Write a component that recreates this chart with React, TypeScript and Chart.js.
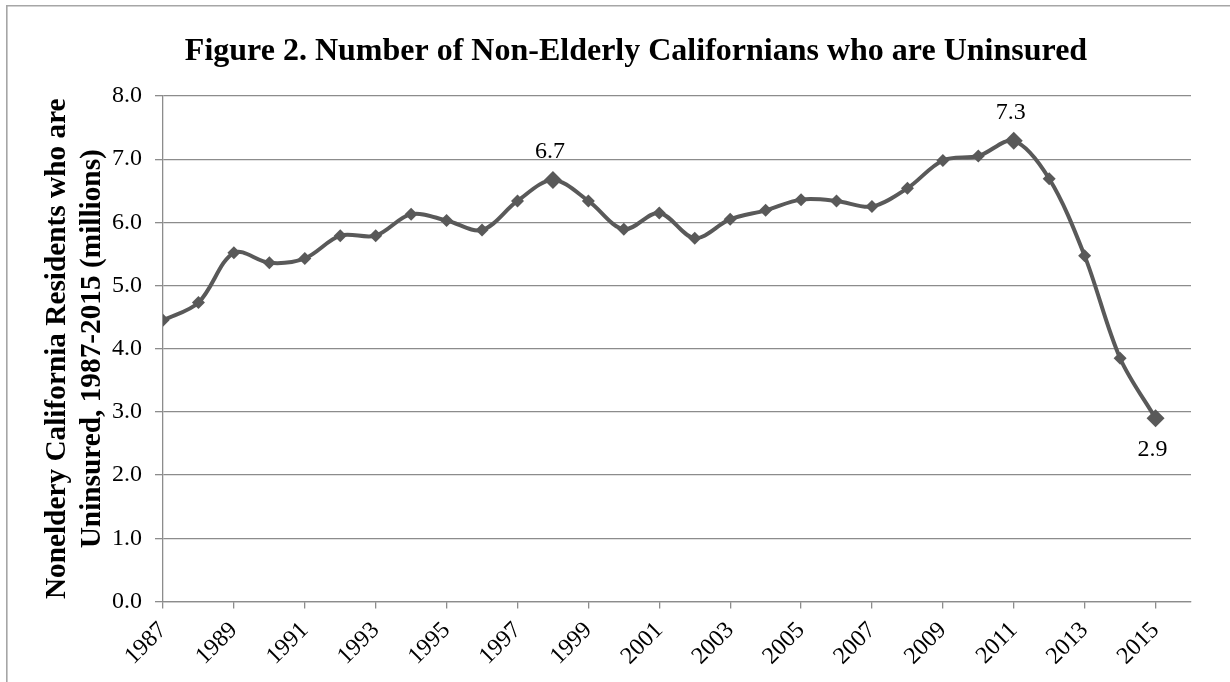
import { useEffect, useRef } from "react";
import { Chart, registerables } from "chart.js";

Chart.register(...registerables);

// Uninsured non-elderly Californians, in millions, by year
const years = [
  1987, 1988, 1989, 1990, 1991, 1992, 1993, 1994, 1995, 1996,
  1997, 1998, 1999, 2000, 2001, 2002, 2003, 2004, 2005, 2006,
  2007, 2008, 2009, 2010, 2011, 2012, 2013, 2014, 2015,
];
const uninsuredMillions = [
  4.45, 4.73, 5.52, 5.36, 5.43, 5.79, 5.79, 6.13, 6.03, 5.88,
  6.34, 6.67, 6.34, 5.89, 6.15, 5.75, 6.05, 6.19, 6.36, 6.34,
  6.25, 6.54, 6.98, 7.05, 7.29, 6.69, 5.47, 3.85, 2.90,
];

// Axis ticks (every other year) and the extent of the year axis
const tickYears = [
  1987, 1989, 1991, 1993, 1995, 1997, 1999, 2001,
  2003, 2005, 2007, 2009, 2011, 2013, 2015,
];
const yearAxisMin = 1987;
const yearAxisMax = 2016;
const valueAxisMin = 0;
const valueAxisMax = 8;
const valueAxisStep = 1;

// Points that carry a value label
const labelledYears = [1998, 2011, 2015];
const labelPlacement = ["above", "above", "below"];

const chartTitle = "Figure 2. Number of Non-Elderly Californians who are Uninsured";
const yAxisTitle = [
  "Noneldery California Residents who are",
  "Uninsured, 1987-2015 (millions)",
];

const SERIF = "'Liberation Serif', 'Times New Roman', serif";
const LINE_COLOR = "#595959";
const GRID_COLOR = "#8c8c8c";

const frameBorder = {
  id: "frameBorder",
  beforeDraw(chart: any) {
    const { ctx, width, height } = chart;
    ctx.save();
    ctx.strokeStyle = "#a6a6a6";
    ctx.lineWidth = 1.6;
    ctx.beginPath();
    ctx.moveTo(6.8, height + 2);
    ctx.lineTo(6.8, 5.8);
    ctx.lineTo(width + 2, 5.8);
    ctx.stroke();
    ctx.restore();
  },
};

const headline = {
  id: "headline",
  afterDraw(chart: any) {
    const { ctx } = chart;
    ctx.save();
    ctx.fillStyle = "#000";
    ctx.font = `bold 32px ${SERIF}`;
    ctx.textAlign = "center";
    ctx.textBaseline = "alphabetic";
    ctx.fillText(chartTitle, 636, 60);
    ctx.restore();
  },
};

const valueLabels = {
  id: "valueLabels",
  afterDatasetsDraw(chart: any) {
    const { ctx } = chart;
    const meta = chart.getDatasetMeta(0);
    ctx.save();
    ctx.fillStyle = "#000";
    ctx.font = `24px ${SERIF}`;
    ctx.textAlign = "center";
    labelledYears.forEach((yr, k) => {
      const i = years.indexOf(yr);
      const pt = meta.data[i];
      if (!pt) return;
      const text = uninsuredMillions[i].toFixed(1);
      if (labelPlacement[k] === "below") {
        ctx.textBaseline = "top";
        ctx.fillText(text, pt.x - 3, pt.y + 19);
      } else {
        ctx.textBaseline = "alphabetic";
        ctx.fillText(text, pt.x - 3, pt.y - 22);
      }
    });
    ctx.restore();
  },
};

export default function App() {
  const canvasRef = useRef<HTMLCanvasElement | null>(null);

  useEffect(() => {
    const canvas = canvasRef.current;
    if (!canvas) return;

    const points = years.map((yr, i) => ({ x: yr, y: uninsuredMillions[i] }));
    const radii = years.map((yr) => (labelledYears.includes(yr) ? 9 : 6.5));

    const chart = new Chart(canvas, {
      type: "line",
      data: {
        datasets: [
          {
            data: points,
            borderColor: LINE_COLOR,
            borderWidth: 4,
            backgroundColor: LINE_COLOR,
            pointStyle: "rectRot",
            pointRadius: radii,
            pointBorderWidth: 0,
            pointBackgroundColor: LINE_COLOR,
            tension: 0.33,
            fill: false,
          },
        ],
      },
      options: {
        responsive: false,
        animation: false,
        events: [],
        layout: { padding: { top: 96, right: 39, bottom: 0, left: 0 } },
        plugins: {
          legend: { display: false },
          tooltip: { enabled: false },
          title: { display: false },
        },
        scales: {
          x: {
            type: "linear",
            min: yearAxisMin,
            max: yearAxisMax,
            afterBuildTicks: (scale: any) => {
              scale.ticks = tickYears.map((v) => ({ value: v }));
            },
            afterFit: (scale: any) => {
              scale.height = 80.5;
            },
            grid: {
              drawOnChartArea: false,
              drawTicks: true,
              tickLength: 7,
              color: GRID_COLOR,
              lineWidth: 1.3,
            },
            border: { display: true, color: GRID_COLOR, width: 1.3 },
            ticks: {
              autoSkip: false,
              minRotation: 45,
              maxRotation: 45,
              padding: 8,
              color: "#000",
              font: { family: SERIF, size: 24 },
              callback: (v: any) => String(v),
            },
          },
          y: {
            min: valueAxisMin,
            max: valueAxisMax,
            afterFit: (scale: any) => {
              scale.width = 163;
            },
            grid: {
              color: GRID_COLOR,
              lineWidth: 1.3,
              drawTicks: true,
              tickLength: 8,
            },
            border: { display: true, color: GRID_COLOR, width: 1.3 },
            ticks: {
              stepSize: valueAxisStep,
              padding: 13,
              color: "#000",
              font: { family: SERIF, size: 24 },
              callback: (v: any) => Number(v).toFixed(1),
            },
            title: {
              display: true,
              text: yAxisTitle,
              color: "#000",
              font: { family: SERIF, size: 29.3, weight: "bold", lineHeight: 1.2 },
              padding: { top: 39.5, bottom: 0 },
            },
          },
        },
      },
      plugins: [frameBorder, headline, valueLabels],
    });

    return () => chart.destroy();
  }, []);

  return (
    <div style={{ position: "fixed", left: 0, top: 0, width: 1230, height: 682, background: "#fff" }}>
      <canvas ref={canvasRef} width={1230} height={682} />
    </div>
  );
}
